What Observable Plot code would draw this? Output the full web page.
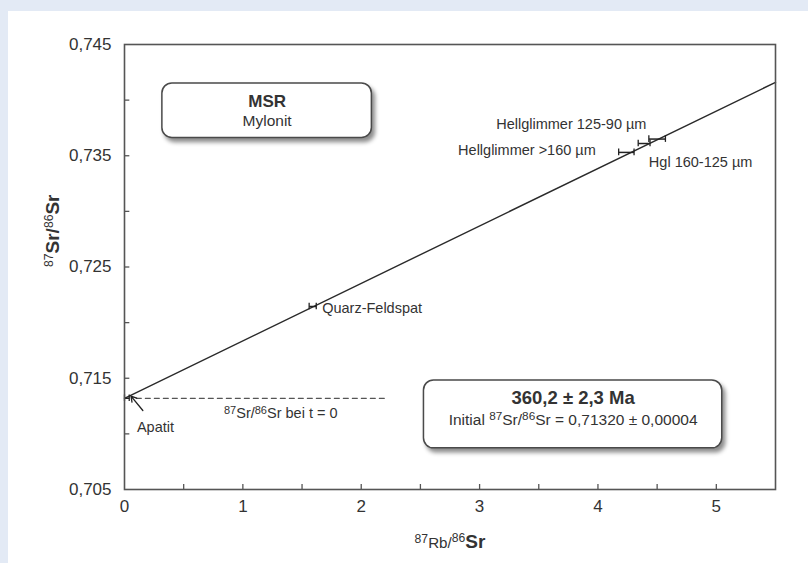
<!DOCTYPE html>
<html><head><meta charset="utf-8">
<script src="https://cdn.jsdelivr.net/npm/d3@7"></script>
<script src="https://cdn.jsdelivr.net/npm/@observablehq/plot@0.6"></script>
<style>
html,body{margin:0;padding:0;background:#e3eaf5;width:808px;height:563px;overflow:hidden;}
#panel{position:absolute;left:8px;top:11px;width:800px;height:552px;background:#fff;}
svg text{font-family:"Liberation Sans",Arial,sans-serif;}
</style></head><body><div id="panel"></div>
<script>
// ---- data ----
const samples = ["Apatit", "Quarz-Feldspat", "Hellglimmer >160 µm", "Hgl 160-125 µm", "Hellglimmer 125-90 µm"];
const rbSr    = [0.02, 1.59, 4.24, 4.39, 4.50];
const rbSrErr = [0.02, 0.03, 0.065, 0.05, 0.07];
const srSr    = [0.7132, 0.72145, 0.7353, 0.7361, 0.7365];
const isochronX = [0, 5.5];
const isochronY = [0.7132, 0.7416];
const initialX = [0.1, 2.2];
const initialY = [0.7132, 0.7132];
const xTicks = [0, 1, 2, 3, 4, 5];
const xTickMarks = [0.5, 1, 1.5, 2, 2.5, 3, 3.5, 4, 4.5, 5];
const yTicks = [0.705, 0.715, 0.725, 0.735, 0.745];
const yTickMarks = [0.710, 0.715, 0.720, 0.725, 0.730, 0.735, 0.740];
const boxTitle = "MSR";
const boxSubtitle = "Mylonit";
const ageText = "360,2 ± 2,3 Ma";
const initialText = "Initial {87}Sr/{86}Sr = 0,71320 ± 0,00004";
const xTitle = "{87}<Rb/>{86}[Sr]";
const yTitle = "{87}[Sr/]{86}[Sr]";

// ---- annotations (data units) ----
const labels = [
  {t: "Hellglimmer 125-90 µm", x: 3.775, y: 0.7378, a: "middle"},
  {t: "Hellglimmer >160 µm", x: 3.40, y: 0.73545, a: "middle"},
  {t: "Hgl 160-125 µm", x: 4.43, y: 0.7344, a: "start"},
  {t: "Quarz-Feldspat", x: 1.67, y: 0.7213, a: "start"},
  {t: "Apatit", x: 0.105, y: 0.7106, a: "start"},
  {t: "{87}Sr/{86}Sr bei t = 0", x: 1.32, y: 0.71183, a: "middle"}
];
const boxes = [
  {x1: 0.32, x2: 2.09, y1: 0.7366, y2: 0.7415},
  {x1: 2.53, x2: 5.05, y1: 0.7087, y2: 0.7148}
];

const idx = d3.range(samples.length);
const font = "Liberation Sans, Arial, sans-serif";
const ink = "#333";
const capH = 0.0003;

const svg = Plot.plot({
  width: 800, height: 552,
  marginLeft: 116, marginRight: 33, marginTop: 33, marginBottom: 74,
  style: {fontFamily: font, background: "transparent", color: ink},
  x: {domain: [0, 5.5]},
  y: {domain: [0.705, 0.745]},
  marks: [
    Plot.rect(boxes, {x1: "x1", x2: "x2", y1: "y1", y2: "y2", rx: 10, fill: "white", stroke: "#4a4a4a", strokeWidth: 1.5}),
    Plot.line(isochronX.map((x, i) => ({x, y: isochronY[i]})), {x: "x", y: "y", stroke: "#2a2a2a", strokeWidth: 1.4}),
    Plot.line(initialX.map((x, i) => ({x, y: initialY[i]})), {x: "x", y: "y", stroke: "#555", strokeWidth: 1.2, strokeDasharray: "5,4"}),
    // error bars
    Plot.link(idx, {x1: i => rbSr[i] - rbSrErr[i], x2: i => rbSr[i] + rbSrErr[i], y1: i => srSr[i], y2: i => srSr[i], stroke: "#222", strokeWidth: 1.5}),
    Plot.ruleX(idx, {x: i => rbSr[i] - rbSrErr[i], y1: i => srSr[i] - capH, y2: i => srSr[i] + capH, stroke: "#222", strokeWidth: 1.3}),
    Plot.ruleX(idx, {x: i => rbSr[i] + rbSrErr[i], y1: i => srSr[i] - capH, y2: i => srSr[i] + capH, stroke: "#222", strokeWidth: 1.3}),
    // ticks inward
    Plot.ruleX(xTickMarks, {x: d => d, y1: 0.705, y2: 0.70545, stroke: "#555", strokeWidth: 1.3}),
    Plot.ruleY(yTickMarks, {y: d => d, x1: 0, x2: 0.045, stroke: "#555", strokeWidth: 1.3}),
    Plot.frame({stroke: "#555", strokeWidth: 1.6}),
    Plot.axisX(xTicks, {tickSize: 0, tickPadding: 10, fontSize: 17, fill: ink, label: null, tickFormat: d => String(d)}),
    Plot.axisY(yTicks, {tickSize: 0, tickPadding: 13, fontSize: 17, fill: ink, label: null, tickFormat: d => d.toFixed(3).replace(".", ",")}),
    // labels
    Plot.text(labels.filter(d => d.a === "middle"), {x: "x", y: "y", text: "t", textAnchor: "middle", fontSize: 14.5, fill: ink}),
    Plot.text(labels.filter(d => d.a === "start"), {x: "x", y: "y", text: "t", textAnchor: "start", fontSize: 14.5, fill: ink}),
    Plot.arrow([{x1: 0.155, y1: 0.7121, x2: 0.055, y2: 0.7134}], {x1: "x1", y1: "y1", x2: "x2", y2: "y2", stroke: "#222", strokeWidth: 1.3, headLength: 7}),
    // boxes text
    Plot.text([boxTitle], {x: 1.205, y: 0.7399, text: d => d, fontSize: 17, fontWeight: "bold", fill: ink}),
    Plot.text([boxSubtitle], {x: 1.205, y: 0.7381, text: d => d, fontSize: 15.5, fill: ink}),
    Plot.text([ageText], {x: 3.79, y: 0.71318, text: d => d, fontSize: 18.5, fontWeight: "bold", fill: ink}),
    Plot.text([initialText], {x: 3.79, y: 0.71127, text: d => d, fontSize: 15.5, fill: ink}),
    // axis titles
    Plot.text([xTitle], {frameAnchor: "bottom", dy: 60, text: d => d, fontSize: 19, fill: ink}),
    Plot.text([yTitle], {frameAnchor: "left", dx: -72, rotate: -90, text: d => d, fontSize: 19, fill: ink})
  ]
});

// shadow on rounded boxes
d3.select(svg).selectAll("rect[rx]").style("filter", "drop-shadow(3px 4px 2px rgba(0,0,0,0.45))");

// rich text: {..} superscript, [..] bold, <..> small
d3.select(svg).selectAll("text").each(function() {
  const t = this.textContent;
  if (!/[\{\[<]/.test(t)) return;
  const isTitle = t === xTitle || t === yTitle;
  const supSize = isTitle ? "0.64em" : "0.76em";
  const parts = t.split(/(\{[^}]*\}|\[[^\]]*\]|<[^>]*>)/).filter(s => s.length);
  const el = d3.select(this);
  el.text(null);
  let raised = false;
  for (const p of parts) {
    const ts = el.append("tspan");
    if (p[0] === "{") {
      ts.text(p.slice(1, -1)).attr("font-size", supSize);
      if (!raised) { ts.attr("dy", isTitle ? "-0.5em" : "-0.42em"); raised = true; }
      continue;
    }
    if (p[0] === "[") ts.text(p.slice(1, -1)).attr("font-weight", "bold");
    else if (p[0] === "<") ts.text(p.slice(1, -1)).attr("font-size", "0.8em");
    else ts.text(p);
    if (raised) { ts.attr("dy", "0.32em"); raised = false; }
  }
});

document.getElementById("panel").appendChild(svg);
</script>
</body></html>
